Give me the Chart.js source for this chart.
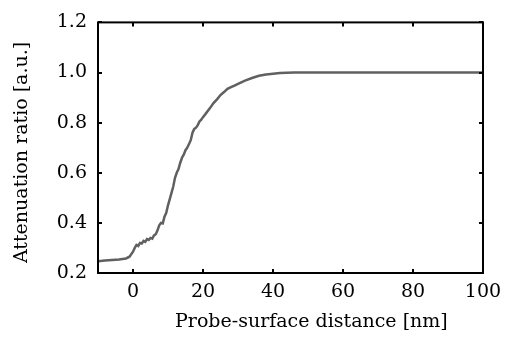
<!DOCTYPE html>
<html>
<head>
<meta charset="utf-8">
<script src="https://cdn.jsdelivr.net/npm/chart.js@4/dist/chart.umd.min.js"></script>
<style>
html,body{margin:0;padding:0;background:#fff;}
#wrap{width:510px;height:338px;}
</style>
</head>
<body>
<div id="wrap"><canvas id="c" width="510" height="338"></canvas></div>
<script>
const distance = [-10, -8, -6, -4, -3, -2, -1, 0, 0.5, 1, 1.5, 2, 2.5, 3, 3.5, 4, 4.5, 5, 5.5, 6, 6.5, 7, 7.5, 8, 8.5, 9, 9.5, 10, 10.5, 11, 11.5, 12, 12.5, 13, 13.5, 14, 14.5, 15, 15.5, 16, 16.5, 17, 17.5, 18, 18.5, 19, 19.5, 20, 21, 22, 23, 24, 25, 26, 27, 28, 29, 30, 32, 34, 36, 38, 40, 42, 44, 46, 48, 50, 60, 70, 80, 90, 100];
const attenuation = [0.247, 0.250, 0.252, 0.254, 0.256, 0.258, 0.265, 0.285, 0.300, 0.312, 0.308, 0.320, 0.318, 0.328, 0.324, 0.335, 0.332, 0.340, 0.337, 0.350, 0.355, 0.370, 0.390, 0.400, 0.398, 0.425, 0.440, 0.470, 0.495, 0.520, 0.545, 0.580, 0.600, 0.615, 0.640, 0.660, 0.672, 0.690, 0.700, 0.715, 0.730, 0.760, 0.775, 0.780, 0.790, 0.805, 0.812, 0.822, 0.840, 0.858, 0.878, 0.893, 0.910, 0.922, 0.935, 0.942, 0.948, 0.955, 0.968, 0.978, 0.987, 0.992, 0.995, 0.998, 0.999, 1.0, 1.0, 1.0, 1.0, 1.0, 1.0, 1.0, 1.0];
const xTicks = [0, 20, 40, 60, 80, 100];
const yTicks = [0.2, 0.4, 0.6, 0.8, 1.0, 1.2];
const xTitle = '\u2003\u2003\u2009Probe-surface distance [nm]';
const yTitle = 'Attenuation ratio [a.u.]\u2002';

const FONT = '"DejaVu Serif", "Liberation Serif", serif';

const framePlugin = {
  id: 'frame',
  afterDraw(chart) {
    const {ctx, chartArea: a, scales} = chart;
    ctx.save();
    ctx.strokeStyle = '#000';
    ctx.lineWidth = 2;
    ctx.strokeRect(a.left, a.top, a.right - a.left, a.bottom - a.top);
    const L = 4;
    ctx.beginPath();
    scales.x.ticks.forEach(t => {
      const px = Math.round(scales.x.getPixelForValue(t.value));
      ctx.moveTo(px, a.bottom); ctx.lineTo(px, a.bottom - L);
      ctx.moveTo(px, a.top); ctx.lineTo(px, a.top + L);
    });
    scales.y.ticks.forEach(t => {
      const py = Math.round(scales.y.getPixelForValue(t.value));
      ctx.moveTo(a.left, py); ctx.lineTo(a.left + L, py);
      ctx.moveTo(a.right, py); ctx.lineTo(a.right - L, py);
    });
    ctx.stroke();
    ctx.restore();
  }
};

new Chart(document.getElementById('c'), {
  type: 'line',
  data: {
    datasets: [{
      data: distance.map((x, i) => ({x: x, y: attenuation[i]})),
      borderColor: '#606060',
      borderWidth: 2.5,
      pointRadius: 0,
      tension: 0,
      fill: false
    }]
  },
  options: {
    responsive: false,
    animation: false,
    layout: {padding: {left: 0, right: 27, top: 15, bottom: 0}},
    plugins: {legend: {display: false}, tooltip: {enabled: false}},
    scales: {
      x: {
        type: 'linear', min: -10, max: 100,
        afterBuildTicks: s => { s.ticks = xTicks.map(v => ({value: v})); },
        afterFit: s => { s.height = 65; },
        grid: {display: false, drawTicks: false},
        border: {display: false},
        ticks: {color: '#000', font: {family: FONT, size: 19}, padding: 8, maxRotation: 0, callback: v => String(v)},
        title: {display: true, text: xTitle, color: '#000', font: {family: FONT, size: 19}, padding: {top: 0, bottom: 5}}
      },
      y: {
        type: 'linear', min: 0.2, max: 1.2,
        afterBuildTicks: s => { s.ticks = yTicks.map(v => ({value: v})); },
        afterFit: s => { s.width = 98; },
        grid: {display: false, drawTicks: false},
        border: {display: false},
        ticks: {color: '#000', font: {family: FONT, size: 19}, padding: 11, callback: v => Number(v).toFixed(1)},
        title: {display: true, text: yTitle, color: '#000', font: {family: FONT, size: 19}, padding: {top: 11, bottom: 0}}
      }
    }
  },
  plugins: [framePlugin]
});
</script>
</body>
</html>
